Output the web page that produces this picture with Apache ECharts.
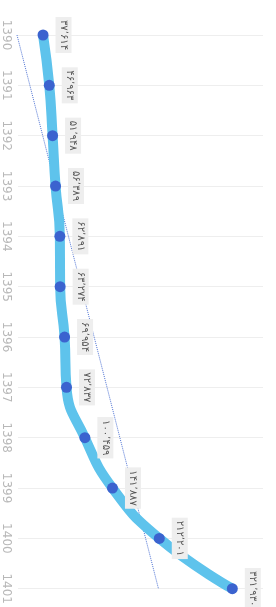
<!DOCTYPE html>
<html>
<head>
<meta charset="utf-8">
<script src="https://cdn.jsdelivr.net/npm/echarts@6/dist/echarts.min.js"></script>
<style>
    html, body { margin: 0; padding: 0; background: #fff; }
    #chart { width: 276px; height: 607px; }
</style>
</head>
<body>
<div id="chart"></div>
<script>
    // سال ها
    let years = ['1390', '1391', '1392', '1393', '1394', '1395', '1396', '1397', '1398', '1399', '1400', '1401']
    let values = [37614, 46963, 51948, 56389, 62891, 63274, 69954, 72837, 100459, 141887, 212201, 321930]
    // trend line, read at its two ends
    let trendEnds = [-1500, 211000]

    let faDigits = '۰۱۲۳۴۵۶۷۸۹'
    function toFa(n) {
        return n.toLocaleString('en-US').replace(/\d/g, d => faDigits[d]).replace(/,/g, '٬')
    }

    let trendData = years.map((y, i) => i === 0 ? trendEnds[0] : (i === years.length - 1 ? trendEnds[1] : null))

    let option = {
        animation: false,
        grid: {
            left: 14,
            right: 13,
            top: 35,
            bottom: 13
        },
        xAxis: {
            type: 'value',
            min: 0,
            max: 368000,
            show: false
        },
        yAxis: {
            type: 'category',
            inverse: true,
            boundaryGap: false,
            data: years,
            axisLine: {show: false},
            axisTick: {show: false},
            axisLabel: {
                rotate: -90,
                margin: 6,
                color: '#b8b8b8',
                fontSize: 12,
                fontFamily: 'DejaVu Sans'
            },
            splitLine: {
                show: true,
                lineStyle: {color: '#eeeeee'}
            }
        },
        series: [
            {
                type: 'line',
                data: trendData,
                connectNulls: true,
                symbol: 'none',
                clip: false,
                z: 1,
                lineStyle: {
                    type: 'dotted',
                    width: 1,
                    color: '#4f73d3'
                }
            },
            {
                type: 'line',
                data: values,
                smooth: true,
                symbol: 'circle',
                symbolSize: 11,
                z: 3,
                lineStyle: {
                    width: 10,
                    color: '#5ec3ec'
                },
                itemStyle: {
                    color: '#3b63cf'
                },
                label: {
                    show: true,
                    position: 'right',
                    distance: 7,
                    rotate: -90,
                    align: 'center',
                    verticalAlign: 'bottom',
                    fontSize: 10,
                    fontFamily: 'DejaVu Sans',
                    color: '#555',
                    backgroundColor: '#eeeeee',
                    padding: [3, 3],
                    formatter: p => toFa(p.value)
                }
            }
        ]
    }

    let myChart = echarts.init(document.getElementById('chart'))
    myChart.setOption(option)
</script>
</body>
</html>
